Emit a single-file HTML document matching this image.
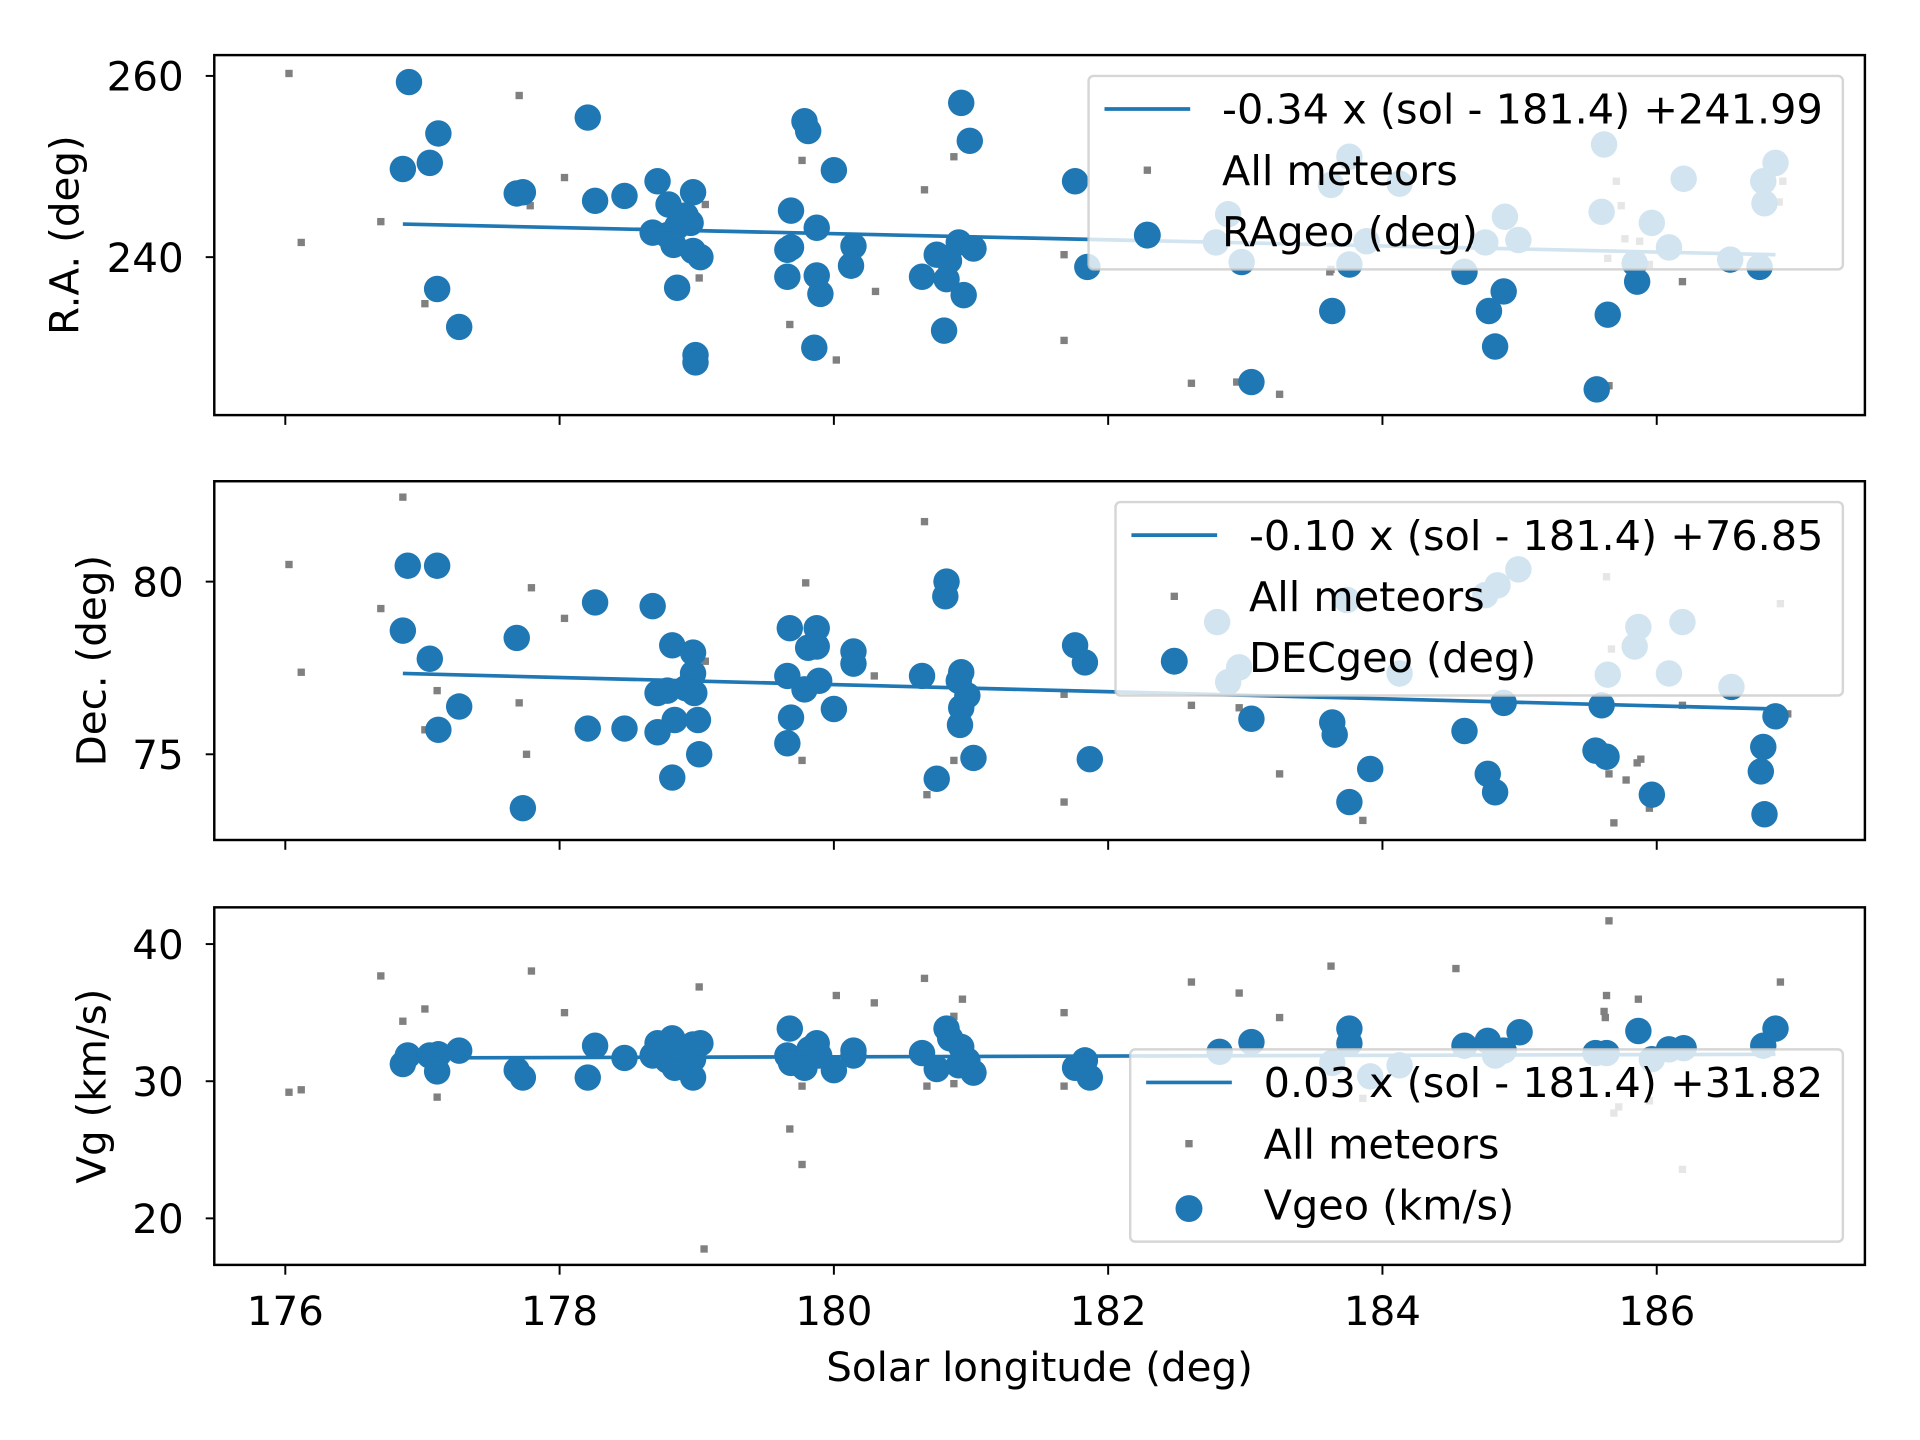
<!DOCTYPE html>
<html><head><meta charset="utf-8"><style>
html,body{margin:0;padding:0;background:#fff;}
svg{display:block;}
text{font-family:"DejaVu Sans","Liberation Sans",sans-serif;fill:#000;}
</style></head><body>
<svg id="s" xmlns="http://www.w3.org/2000/svg" width="1920" height="1440" viewBox="0 0 1568 1176" preserveAspectRatio="none"></svg>
<script>
const s=document.getElementById('s');let h='';
const B='#1f77b4';
function panel(top,bot,gray,blue,line,ticks,ylabel,ylx,leg,showX){
  h+=`<g>`;
  gray.forEach(p=>h+=`<rect x="${p[0]-3}" y="${p[1]-3}" width="6" height="6" fill="#808080"/>`);
  blue.forEach(p=>h+=`<circle cx="${p[0]}" cy="${p[1]}" r="10.8" fill="${B}"/>`);
  h+=`<line x1="${line[0]}" y1="${line[1]}" x2="${line[2]}" y2="${line[3]}" stroke="${B}" stroke-width="3"/>`;
  const [lx,ly,lr,lb,txt,name]=leg;
  h+=`<rect x="${lx}" y="${ly}" width="${lr-lx}" height="${lb-ly}" rx="4" fill="#fff" fill-opacity="0.8" stroke="#ccc" stroke-opacity="0.8" stroke-width="2"/>`;
  const r0=ly+27, mx=lx+48, tx=lx+109;
  h+=`<line x1="${lx+13}" y1="${r0}" x2="${lx+83}" y2="${r0}" stroke="${B}" stroke-width="3"/>`;
  h+=`<text x="${tx}" y="${r0+12}" font-size="33.8">${txt}</text>`;
  h+=`<rect x="${mx-3}" y="${r0+50-3}" width="6" height="6" fill="#808080"/>`;
  h+=`<text x="${tx}" y="${r0+62}" font-size="33.8">All meteors</text>`;
  h+=`<circle cx="${mx}" cy="${r0+103}" r="11" fill="${B}"/>`;
  h+=`<text x="${tx}" y="${r0+112}" font-size="33.8">${name}</text>`;
  h+=`<rect x="175" y="${top}" width="1348" height="${bot-top}" fill="none" stroke="#000" stroke-width="2"/>`;
  ticks.forEach(t=>{h+=`<line x1="168" y1="${t[0]}" x2="175" y2="${t[0]}" stroke="#000" stroke-width="1.6"/><text x="150" y="${t[0]+12}" font-size="33" text-anchor="end">${t[1]}</text>`;});
  [233,457,681,905,1129,1353].forEach((x,i)=>{h+=`<line x1="${x}" y1="${bot}" x2="${x}" y2="${bot+8}" stroke="#000" stroke-width="1.6"/>`;
    if(showX)h+=`<text x="${x}" y="${bot+49}" font-size="33" text-anchor="middle">${176+2*i}</text>`;});
  const cy=(top+bot)/2;
  h+=`<text transform="translate(${ylx},${cy}) rotate(-90)" font-size="33" text-anchor="middle">${ylabel}</text>`;
  h+=`</g>`;
}
panel(45,339,
[[236,60],[246,198],[311,181],[347,248],[424,78],[433,168],[461,145],[576,167],[571,227],[645,265],[655,131],[683,294],[715,238],[755,155],[779,128],[869,278],[869,208],[973,313],[1010,312],[1045,322],[1086,222],[1314,315],[1320,148],[1324,168],[1313,211],[1327,195],[1339,197],[1347,216],[1374,230],[1456,148],[1453,165],[1087,220]],
[[334,67],[329,138],[351,133],[358,109],[357,236],[375,267],[422,158],[427,157],[480,96],[486,164],[510,160],[537,148],[533,190],[546,167],[550,200],[545,192],[553,185],[566,157],[566,205],[572,210],[553,235],[568,290],[568,296],[564,182],[560,176],[646,172],[643,204],[646,202],[643,226],[657,99],[660,107],[667,186],[681,139],[667,225],[670,240],[665,284],[697,201],[695,217],[753,226],[765,208],[773,228],[771,270],[785,84],[792,115],[783,198],[787,241],[795,203],[775,213],[878,148],[888,218],[1014,214],[1022,312],[1088,254],[1102,216],[1196,222],[1216,254],[1221,283],[1228,238],[1304,318],[1313,257],[1337,230],[1003,175],[1102,128],[1143,150],[1229,177],[1240,196],[1213,198],[1310,118],[1308,173],[1349,182],[1363,202],[1375,146],[1440,148],[1450,133],[1441,166],[1413,212],[1437,218],[1335,215],[993,198],[1087,151],[1116,197]],
[329,183,1450,208],[[62,'260'],[210,'240']],'R.A. (deg)',64,[889,62,1505,220,'-0.34 x (sol - 181.4) +241.99','RAgeo (deg)'],false);
panel(393,686,
[[236,461],[246,549],[311,497],[329,406],[357,564],[357,540],[347,596],[424,574],[430,616],[434,480],[461,505],[576,540],[655,621],[658,476],[714,552],[755,426],[757,649],[779,621],[869,655],[869,567],[973,576],[1012,578],[1045,632],[1113,670],[1314,632],[1313,618],[1318,672],[1312,471],[1316,530],[1328,637],[1337,623],[1340,620],[1347,660],[1374,576],[1454,493],[1460,583]],
[[333,462],[357,462],[329,515],[351,538],[375,577],[358,596],[422,521],[427,660],[480,595],[486,492],[510,595],[533,495],[549,527],[549,635],[537,566],[545,564],[551,588],[537,598],[566,533],[566,550],[567,566],[570,588],[571,616],[560,562],[645,513],[643,552],[646,586],[643,607],[667,513],[660,529],[667,528],[657,563],[669,556],[681,579],[697,532],[697,542],[753,552],[765,636],[773,475],[772,487],[785,549],[783,556],[785,578],[784,592],[795,619],[790,568],[878,527],[886,541],[890,620],[1022,587],[1088,590],[1090,600],[1102,655],[1119,628],[1196,597],[1215,632],[1221,647],[1228,574],[1303,613],[1312,618],[1308,576],[1349,649],[1440,610],[1438,630],[1441,665],[1450,585],[994,508],[1003,557],[1012,545],[1213,486],[1223,478],[1240,465],[1100,490],[1143,550],[1313,551],[1338,512],[1335,528],[1363,550],[1374,508],[1414,561]],
[329,550,1450,579],[[475,'80'],[616,'75']],'Dec. (deg)',86,[911,410,1505,568,'-0.10 x (sol - 181.4) +76.85','DECgeo (deg)'],false);
panel(741,1033,
[[236,892],[246,890],[311,797],[329,834],[347,824],[357,896],[434,793],[461,827],[571,806],[575,1020],[645,922],[655,951],[655,887],[683,813],[714,819],[755,799],[779,830],[786,816],[779,885],[757,887],[869,827],[869,887],[973,802],[1012,811],[1045,831],[1087,789],[1113,897],[1189,791],[1314,752],[1312,813],[1311,831],[1310,826],[1318,909],[1322,904],[1338,816],[1347,899],[1374,955],[1454,802]],
[[329,869],[333,862],[351,862],[358,861],[357,875],[375,858],[422,874],[427,880],[480,880],[486,854],[510,864],[537,852],[533,862],[549,848],[545,866],[551,872],[553,856],[566,853],[566,865],[566,880],[572,852],[560,862],[645,840],[643,862],[646,868],[657,872],[661,857],[667,852],[669,862],[681,874],[697,858],[697,862],[753,860],[765,873],[773,840],[776,848],[785,855],[783,870],[795,876],[790,866],[878,872],[886,866],[890,880],[996,859],[1022,851],[1088,868],[1102,840],[1102,852],[1119,879],[1143,870],[1196,854],[1215,850],[1221,862],[1228,858],[1241,843],[1303,860],[1312,860],[1338,842],[1349,865],[1363,857],[1375,856],[1440,854],[1450,840]],
[329,864,1450,861],[[771,'40'],[883,'30'],[995,'20']],'Vg (km/s)',86,[923,857,1505,1014,'0.03 x (sol - 181.4) +31.82','Vgeo (km/s)'],true);
h+=`<text x="849" y="1128" font-size="33" text-anchor="middle">Solar longitude (deg)</text>`;
s.innerHTML=h;
</script>
</body></html>
